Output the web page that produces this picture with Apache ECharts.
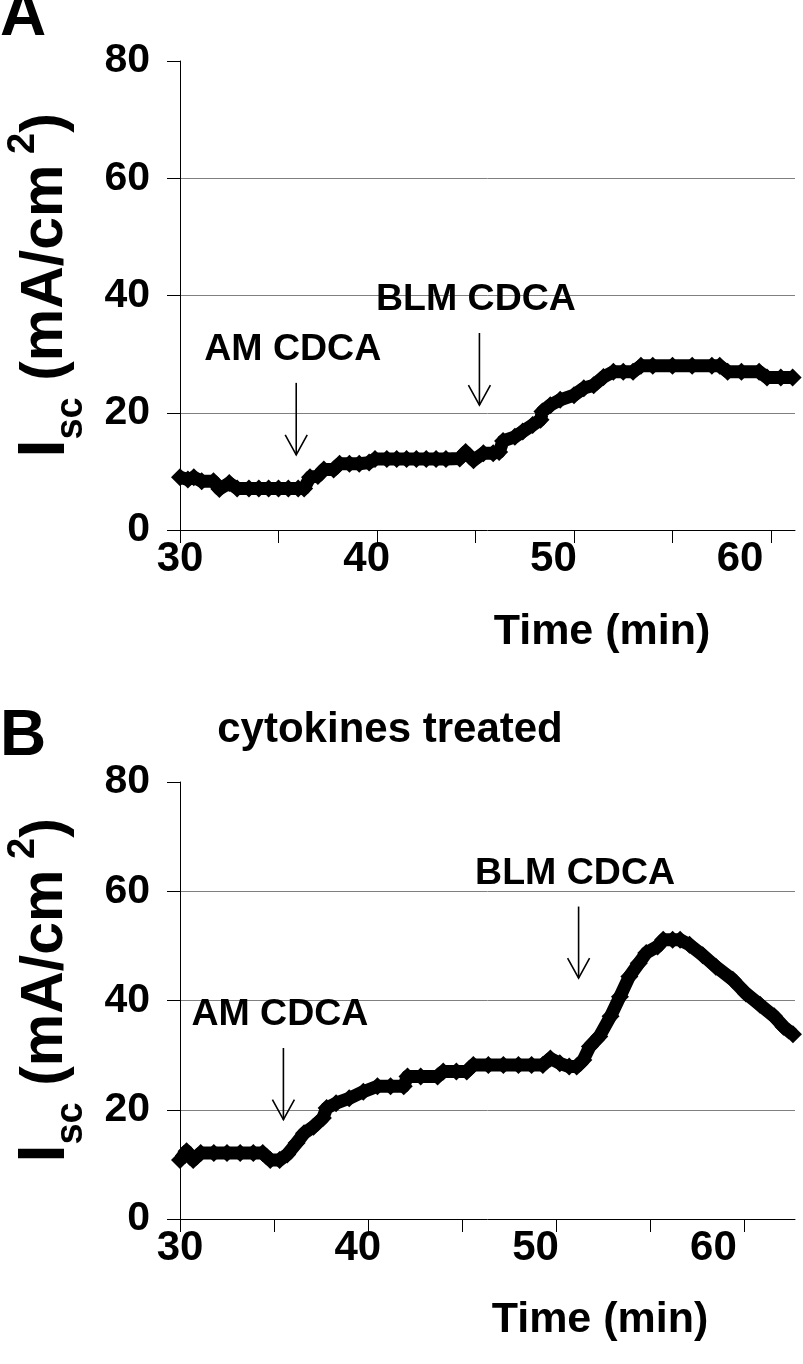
<!DOCTYPE html>
<html>
<head>
<meta charset="utf-8">
<script src="https://cdn.jsdelivr.net/npm/echarts@6/dist/echarts.min.js"></script>
<style>html,body{margin:0;padding:0;background:#fff}#c{width:803px;height:1364px}</style>
</head>
<body>
<div id="c"></div>
<script>
// ---- Panel A data ----
const timeA = [30.0,30.4,30.7,31.1,31.7,32.0,32.5,32.9,33.5,34.0,34.5,35.0,35.5,36.0,36.3,36.6,37.0,37.3,37.8,38.1,38.6,39.1,39.6,39.9,40.5,41.0,41.5,42.0,42.5,43.0,43.5,44.2,44.5,44.9,45.4,45.9,46.2,46.4,47.0,47.4,47.9,48.3,48.4,48.8,49.3,50.0,50.5,51.0,51.5,52.0,52.5,53.0,53.4,54.0,55.0,56.0,57.0,57.4,57.8,58.5,59.4,59.8,60.5,61.1];
const valA  = [9.0,8.6,9.0,8.3,8.3,7.0,8.0,7.1,7.1,7.1,7.1,7.1,7.1,7.1,7.1,9.0,9.2,10.3,10.3,11.3,11.3,11.3,11.5,12.1,12.1,12.1,12.1,12.1,12.1,12.1,12.1,12.2,13.3,11.9,13.1,13.1,13.3,15.2,15.9,16.8,17.9,18.8,20.2,21.3,22.2,23.0,24.2,24.7,26.1,27.0,27.0,27.0,28.0,28.0,28.0,28.0,28.0,28.0,27.0,27.0,27.0,26.0,26.0,26.0];
// ---- Panel B data ----
const timeB = [30.0,30.35,30.7,31.1,31.8,32.5,33.2,33.9,34.4,34.8,35.3,35.7,36.2,36.6,37.1,37.6,37.8,38.3,39.0,39.75,40.5,41.2,41.9,42.1,42.8,43.7,44.0,44.7,45.25,45.6,46.4,47.2,48.0,48.7,49.3,49.7,50.2,50.7,51.1,51.45,51.8,52.3,52.9,53.4,53.9,54.4,54.8,55.4,55.7,56.2,56.6,57.1,57.8,58.5,59.4,60.1,60.85,61.6,62.1,62.6];
const valB  = [10.8,12.4,10.8,12.1,12.1,12.1,12.1,12.1,12.1,10.8,10.8,11.8,13.9,15.7,16.9,18.5,20.3,21.2,22.1,23.3,24.3,24.3,24.3,26.1,26.1,26.1,27.0,27.0,27.0,28.2,28.2,28.2,28.2,28.2,28.2,29.4,28.5,27.9,27.9,29.1,31.6,33.4,37.1,40.7,44.4,46.8,48.7,49.9,51.1,51.1,51.1,50.2,48.3,46.2,43.8,41.3,39.2,37.1,35.2,33.8];
// ---- annotations ----
const arrowTimeA = [35.9, 45.2], arrowTopA = [25.1, 33.6], arrowTipA = [12.8, 21.3];
const arrowTimeB = [35.5, 51.2], arrowTopB = [31.3, 57.2], arrowTipB = [18.2, 44.1];
const arrowLabels = ['AM CDCA', 'BLM CDCA'];
// ---- ticks / tick labels ----
const yTicks = [0, 20, 40, 60, 80];
const xTickValues = [30, 35, 40, 45, 50, 55, 60];
const xTickLabels = [30, 40, 50, 60];

const FONT = '"Liberation Sans", Arial, sans-serif';
const chart = echarts.init(document.getElementById('c'), null, {renderer: 'canvas'});

function zip(t, v) { return t.map((x, i) => [x, v[i]]); }
function arrowData(t, top, tip) { return t.map((x, i) => [x, top[i], tip[i]]); }

function yAxisCfg(gi) {
  return {
    type: 'value', gridIndex: gi, min: yTicks[0], max: yTicks[yTicks.length - 1], interval: 20,
    axisLine: {show: true, lineStyle: {color: '#000', width: 1}},
    axisTick: {show: true, length: 13, lineStyle: {color: '#000', width: 1}},
    axisLabel: {color: '#000', fontFamily: FONT, fontWeight: 'bold', fontSize: 41, margin: 30},
    splitLine: {show: true, showMinLine: false, showMaxLine: false, lineStyle: {color: '#808080', width: 1}},
    name: '{i|I}{s|sc}{n| (mA/cm}{p| 2}{n|)}',
    nameLocation: 'middle', nameRotate: 90, nameGap: 97,
    nameTextStyle: {
      padding: [0, 0, 0, 20],
      rich: {
        i: {fontFamily: FONT, fontWeight: 'bold', fontSize: 66, color: '#000', lineHeight: 74},
        n: {fontFamily: FONT, fontWeight: 'bold', fontSize: 59, color: '#000', lineHeight: 74},
        s: {fontFamily: FONT, fontWeight: 'bold', fontSize: 38, color: '#000', lineHeight: 74, verticalAlign: 'bottom', padding: [0, 0, -8, 0]},
        p: {fontFamily: FONT, fontWeight: 'bold', fontSize: 38, color: '#000', lineHeight: 74, verticalAlign: 'top', padding: [-4, 0, 0, 0]}
      }
    }
  };
}
function xTickAxis(gi, max) {
  return {
    type: 'value', gridIndex: gi, min: 30, max: max,
    axisLine: {show: true, onZero: false, lineStyle: {color: '#000', width: 1}},
    axisTick: {show: true, length: 13, customValues: xTickValues, lineStyle: {color: '#000', width: 1}},
    axisLabel: {show: false}, splitLine: {show: false}
  };
}
function xLabelAxis(gi, max) {
  return {
    type: 'value', gridIndex: gi, position: 'bottom', min: 30, max: max,
    axisLine: {show: false}, axisTick: {show: false}, splitLine: {show: false},
    axisLabel: {show: true, customValues: xTickLabels, color: '#000', fontFamily: FONT, fontWeight: 'bold', fontSize: 42, margin: 8}
  };
}
function arrowSeries(xi, yi, data) {
  return {
    type: 'custom', xAxisIndex: xi, yAxisIndex: yi, data: data, clip: false, silent: true, z: 5,
    renderItem: function (params, api) {
      const top = api.coord([api.value(0), api.value(1)]);
      const tip = api.coord([api.value(0), api.value(2)]);
      return {
        type: 'group', children: [
          {type: 'line', shape: {x1: top[0], y1: top[1], x2: tip[0], y2: tip[1]}, style: {stroke: '#000', lineWidth: 1.6}},
          {type: 'polyline', shape: {points: [[tip[0] - 11, tip[1] - 20], [tip[0], tip[1]], [tip[0] + 11, tip[1] - 20]]}, style: {stroke: '#000', fill: null, lineWidth: 1.6}},
          {type: 'text', style: {text: arrowLabels[params.dataIndex], x: top[0] - 3.5, y: top[1] - 33, align: 'center', verticalAlign: 'middle', font: 'bold 37.5px ' + FONT, fill: '#000'}}
        ]
      };
    }
  };
}
function lineSeries(xi, yi, data) {
  return {
    type: 'line', xAxisIndex: xi, yAxisIndex: yi, data: data, clip: false,
    symbol: 'diamond', symbolSize: 18, showAllSymbol: true,
    lineStyle: {color: '#000', width: 13, join: 'round'},
    itemStyle: {color: '#000'}, z: 3, animation: false
  };
}

chart.setOption({
  animation: false,
  backgroundColor: '#fff',
  grid: [
    {left: 180, top: 61, width: 615, height: 469, containLabel: false, outerBoundsMode: 'none'},
    {left: 180, top: 782, width: 615, height: 437, containLabel: false, outerBoundsMode: 'none'}
  ],
  xAxis: [
    xTickAxis(0, 61.22), xLabelAxis(0, 62.94),
    xTickAxis(1, 62.71), xLabelAxis(1, 64.59)
  ],
  yAxis: [yAxisCfg(0), yAxisCfg(1)],
  series: [
    lineSeries(0, 0, zip(timeA, valA)),
    lineSeries(2, 1, zip(timeB, valB)),
    arrowSeries(0, 0, arrowData(arrowTimeA, arrowTopA, arrowTipA)),
    arrowSeries(2, 1, arrowData(arrowTimeB, arrowTopB, arrowTipB))
  ],
  graphic: [
    {type: 'text', left: 0, top: -15, style: {text: 'A', font: 'bold 64px ' + FONT, fill: '#000'}},
    {type: 'text', left: 0, top: 705, style: {text: 'B', font: 'bold 64px ' + FONT, fill: '#000'}},
    {type: 'text', x: 390, y: 730, style: {text: 'cytokines treated', font: 'bold 42px ' + FONT, fill: '#000', align: 'center', verticalAlign: 'middle'}},
    {type: 'text', x: 602, y: 632, style: {text: 'Time (min)', font: 'bold 43px ' + FONT, fill: '#000', align: 'center', verticalAlign: 'middle'}},
    {type: 'text', x: 600, y: 1320, style: {text: 'Time (min)', font: 'bold 43px ' + FONT, fill: '#000', align: 'center', verticalAlign: 'middle'}}
  ]
});
</script>
</body>
</html>
